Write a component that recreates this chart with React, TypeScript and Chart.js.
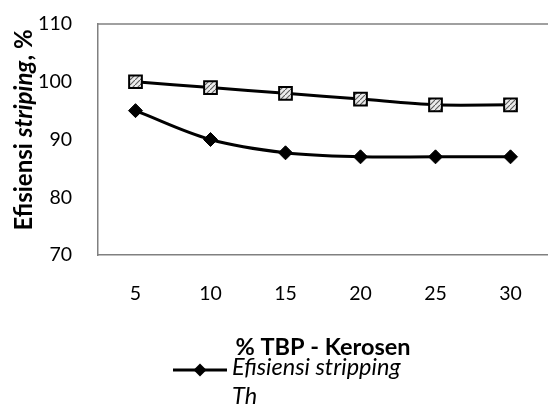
import React, { useEffect, useRef } from 'react';
import { Chart, registerables } from 'chart.js';

Chart.register(...registerables);

const categories = ['5', '10', '15', '20', '25', '30'];
const seriesTh = [95, 90, 87.7, 87, 87, 87];
const seriesUpper = [100, 99, 98, 97, 96, 96];
const yMin = 70;
const yMax = 110;
const yStep = 10;
const xTitle = '% TBP - Kerosen';
const yTitleParts = [
  { text: 'Efisiensi ', italic: false },
  { text: 'striping', italic: true },
  { text: ', %', italic: false },
];
const legendLines = ['Efisiensi stripping', 'Th'];

const FONT = 'Lato';
const TICK_FS = 19.5;
const TITLE_FS = 23.5;
const YTITLE_FS = 24;
const LEGEND_FS = 23.5;
const BORDER = '#808080';

function makePattern(): CanvasPattern | string {
  const c = document.createElement('canvas');
  c.width = 5;
  c.height = 5;
  const g = c.getContext('2d');
  if (!g) return '#cccccc';
  g.fillStyle = '#ececec';
  g.fillRect(0, 0, 5, 5);
  g.strokeStyle = '#5a5a5a';
  g.lineWidth = 1.1;
  g.beginPath();
  g.moveTo(0, 5);
  g.lineTo(5, 0);
  g.stroke();
  const p = g.createPattern(c, 'repeat');
  return p || '#cccccc';
}

export default function App() {
  const ref = useRef<HTMLCanvasElement | null>(null);

  useEffect(() => {
    if (!ref.current) return;
    const pattern = makePattern();

    const framePlugin = {
      id: 'frame',
      afterDraw(chart: any) {
        const { ctx, chartArea } = chart;
        ctx.save();
        ctx.strokeStyle = BORDER;
        ctx.lineWidth = 1.5;
        ctx.beginPath();
        ctx.moveTo(chartArea.left, chartArea.top);
        ctx.lineTo(chartArea.right, chartArea.top);
        ctx.stroke();

        // x-axis title
        ctx.fillStyle = '#000';
        ctx.font = `bold ${TITLE_FS}px ${FONT}`;
        ctx.textAlign = 'center';
        ctx.textBaseline = 'alphabetic';
        ctx.fillText(xTitle, (chartArea.left + chartArea.right) / 2, 355);

        // y-axis title (mixed bold / bold italic)
        ctx.save();
        ctx.translate(32, 130);
        ctx.rotate(-Math.PI / 2);
        ctx.textBaseline = 'alphabetic';
        ctx.textAlign = 'left';
        let total = 0;
        const widths: number[] = [];
        yTitleParts.forEach((p) => {
          ctx.font = `${p.italic ? 'italic ' : ''}bold ${YTITLE_FS}px ${FONT}`;
          const w = ctx.measureText(p.text).width;
          widths.push(w);
          total += w;
        });
        let x = -total / 2;
        yTitleParts.forEach((p, i) => {
          ctx.font = `${p.italic ? 'italic ' : ''}bold ${YTITLE_FS}px ${FONT}`;
          ctx.fillText(p.text, x, 0);
          x += widths[i];
        });
        ctx.restore();

        // legend (only the Th series, as in the reference)
        const ly = 370;
        ctx.strokeStyle = '#000';
        ctx.lineWidth = 3;
        ctx.beginPath();
        ctx.moveTo(173, ly);
        ctx.lineTo(227, ly);
        ctx.stroke();
        ctx.fillStyle = '#000';
        ctx.beginPath();
        ctx.moveTo(200, ly - 6.5);
        ctx.lineTo(206.5, ly);
        ctx.lineTo(200, ly + 6.5);
        ctx.lineTo(193.5, ly);
        ctx.closePath();
        ctx.fill();
        ctx.font = `italic ${LEGEND_FS}px ${FONT}`;
        ctx.textBaseline = 'alphabetic';
        ctx.textAlign = 'left';
        ctx.fillText(legendLines[0], 232, 375);
        ctx.fillText(legendLines[1], 232, 404);
        ctx.restore();
      },
    };

    const chart = new Chart(ref.current, {
      type: 'line',
      data: {
        labels: categories,
        datasets: [
          {
            label: 'Efisiensi stripping U',
            data: seriesUpper,
            borderColor: '#000',
            borderWidth: 3,
            tension: 0.3,
            pointStyle: 'rect',
            pointRadius: 9,
            pointBorderWidth: 2,
            pointBorderColor: '#000',
            pointBackgroundColor: pattern as any,
          },
          {
            label: 'Efisiensi stripping Th',
            data: seriesTh,
            borderColor: '#000',
            borderWidth: 3,
            tension: 0.35,
            pointStyle: 'rectRot',
            pointRadius: 7,
            pointBorderWidth: 1,
            pointBorderColor: '#000',
            pointBackgroundColor: '#000',
          },
        ],
      },
      options: {
        animation: false,
        responsive: false,
        maintainAspectRatio: false,
        layout: { autoPadding: false, padding: { left: 0, right: 0, top: 24, bottom: 0 } },
        plugins: {
          legend: { display: false },
          tooltip: { enabled: false },
        },
        scales: {
          x: {
            type: 'category',
            offset: true,
            grid: { display: false, drawTicks: false },
            border: { display: true, color: BORDER, width: 1.5 },
            ticks: {
              color: '#000',
              font: { family: FONT, size: TICK_FS },
              padding: 27,
              maxRotation: 0,
            },
            afterFit(scale: any) {
              scale.height = 152;
              scale.paddingLeft = 0;
              scale.paddingRight = 0;
            },
          },
          y: {
            min: yMin,
            max: yMax,
            grid: { display: false, drawTicks: false },
            border: { display: true, color: BORDER, width: 1.5 },
            ticks: {
              stepSize: yStep,
              color: '#000',
              font: { family: FONT, size: TICK_FS },
              padding: 26,
            },
            afterFit(scale: any) {
              scale.width = 98;
              scale.paddingTop = 0;
              scale.paddingBottom = 0;
            },
          },
        },
      },
      plugins: [framePlugin],
    });
    return () => chart.destroy();
  }, []);

  return (
    <div style={{ position: 'absolute', left: 0, top: 0, width: 548, height: 407 }}>
      <canvas ref={ref} width={548} height={407} style={{ width: 548, height: 407 }} />
    </div>
  );
}
